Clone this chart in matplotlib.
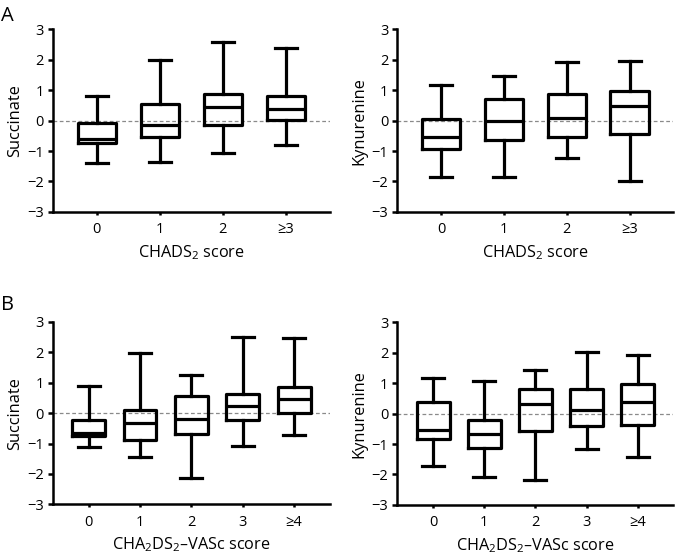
import matplotlib
matplotlib.use("Agg")
import matplotlib.pyplot as plt

plt.rcParams["font.family"] = ["Open Sans", "DejaVu Sans"]
plt.rcParams["mathtext.default"] = "regular"

# Panel A: CHADS2 score groups
chads_labels = ["0", "1", "2", "≥3"]
# whisker low, Q1, median, Q3, whisker high
a_succinate = [
    [-1.39, -0.73, -0.62, -0.08, 0.80],
    [-1.35, -0.55, -0.15, 0.56, 1.99],
    [-1.08, -0.15, 0.44, 0.89, 2.58],
    [-0.79, 0.03, 0.39, 0.80, 2.39],
]
a_kynurenine = [
    [-1.85, -0.92, -0.54, 0.07, 1.17],
    [-1.85, -0.65, -0.02, 0.70, 1.46],
    [-1.24, -0.55, 0.10, 0.89, 1.92],
    [-1.99, -0.44, 0.49, 0.96, 1.95],
]

# Panel B: CHA2DS2-VASc score groups
vasc_labels = ["0", "1", "2", "3", "≥4"]
b_succinate = [
    [-1.13, -0.74, -0.64, -0.23, 0.88],
    [-1.46, -0.88, -0.31, 0.10, 1.99],
    [-2.12, -0.69, -0.18, 0.57, 1.27],
    [-1.08, -0.23, 0.24, 0.62, 2.52],
    [-0.72, 0.02, 0.47, 0.87, 2.48],
]
b_kynurenine = [
    [-1.73, -0.83, -0.54, 0.37, 1.17],
    [-2.09, -1.13, -0.66, -0.21, 1.08],
    [-2.18, -0.57, 0.31, 0.82, 1.45],
    [-1.15, -0.42, 0.12, 0.80, 2.04],
    [-1.43, -0.38, 0.37, 0.97, 1.93],
]


def draw_panel(ax, rows, labels, ylabel, xlabel, width, capw):
    stats = []
    for r, lab in zip(rows, labels):
        stats.append({"whislo": r[0], "q1": r[1], "med": r[2], "q3": r[3],
                      "whishi": r[4], "fliers": [], "label": lab})
    lw = 2.3
    pos = list(range(len(rows)))
    ax.axhline(0, color="#8a8a8a", lw=0.9, ls=(0, (3, 2)), zorder=0)
    ax.bxp(stats, positions=pos, widths=width, showfliers=False,
           capwidths=capw,
           boxprops=dict(color="black", lw=lw),
           whiskerprops=dict(color="black", lw=lw),
           capprops=dict(color="black", lw=lw),
           medianprops=dict(color="black", lw=lw))
    n = len(rows)
    ax.set_xlim(-0.7, n - 1 + 0.7)
    ax.set_ylim(-3, 3)
    ax.set_yticks(range(-3, 4))
    ax.set_xticks(pos)
    ax.set_xticklabels(labels)
    ax.spines["top"].set_visible(False)
    ax.spines["right"].set_visible(False)
    ax.spines["left"].set_linewidth(1.8)
    ax.spines["bottom"].set_linewidth(1.8)
    ax.tick_params(axis="y", length=3.5, width=1.8, labelsize=10.5, pad=3)
    ax.tick_params(axis="x", length=2.5, width=1.8, labelsize=10.5, pad=5)
    ax.set_ylabel(ylabel, fontsize=11.8, labelpad=3)
    ax.set_xlabel(xlabel, fontsize=11.7, labelpad=4)


fig = plt.figure(figsize=(6.75, 5.56), dpi=100)
ax1 = fig.add_axes([0.078, 0.619, 0.411, 0.328])
ax2 = fig.add_axes([0.5887, 0.619, 0.409, 0.328])
ax3 = fig.add_axes([0.078, 0.093, 0.411, 0.328])
ax4 = fig.add_axes([0.5887, 0.092, 0.409, 0.328])

draw_panel(ax1, a_succinate, chads_labels, "Succinate", "CHADS$_2$ score", 0.61, 0.35)
draw_panel(ax2, a_kynurenine, chads_labels, "Kynurenine", "CHADS$_2$ score", 0.61, 0.35)
draw_panel(ax3, b_succinate, vasc_labels, "Succinate", "CHA$_2$DS$_2$–VASc score", 0.64, 0.43)
draw_panel(ax4, b_kynurenine, vasc_labels, "Kynurenine", "CHA$_2$DS$_2$–VASc score", 0.64, 0.43)

fig.text(0.002, 0.99, "A", fontsize=14.5, va="top", ha="left")
fig.text(0.002, 0.47, "B", fontsize=14.5, va="top", ha="left")

fig.savefig("out.png", dpi=100)
